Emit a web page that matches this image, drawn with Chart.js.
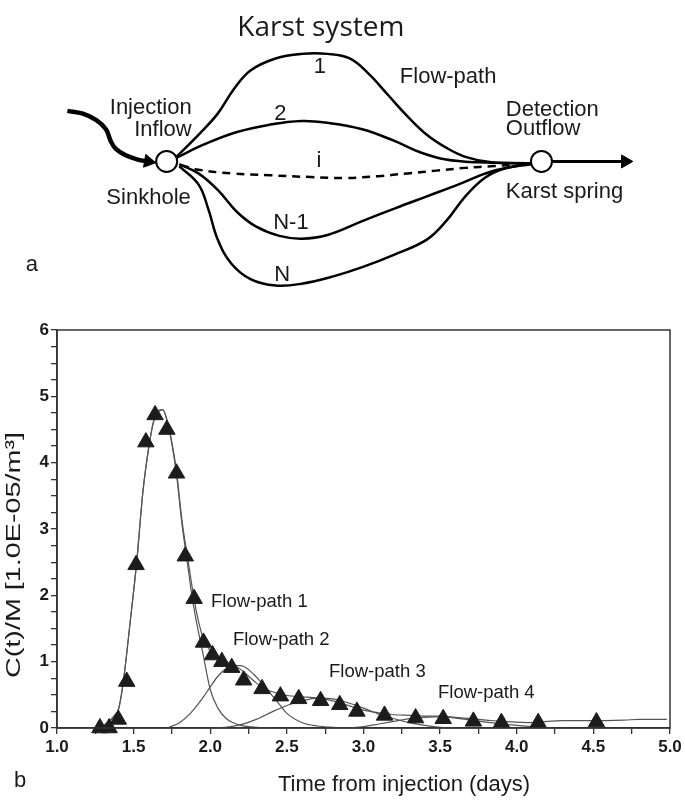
<!DOCTYPE html>
<html>
<head>
<meta charset="utf-8">
<script src="https://cdn.jsdelivr.net/npm/chart.js@4.4.1/dist/chart.umd.min.js"></script>
<style>
  html, body { margin: 0; padding: 0; background: #fff; }
  #wrap { position: relative; width: 685px; height: 800px; }
  .panel { position: absolute; left: 0; width: 685px; }
  #panelA { top: 0; height: 310px; }
  #panelB { top: 310px; height: 490px; }
</style>
</head>
<body>
<div id="wrap">
  <div class="panel" id="panelA"><canvas id="diagram"></canvas></div>
  <div class="panel" id="panelB"><canvas id="btc"></canvas></div>
</div>
<script>
/* ─── PANEL A: karst system sketch (diagram units, 0..685 x 0..310) ─── */
const path1  = [[170,157],[193,133],[213,110],[230,83],[247,63],[273,50],[300,45],[327,45],[350,50],[370,67],[390,90],[410,113],[430,133],[450,147],[470,157],[497,163],[538,164]];
const path2  = [[170,158],[200,143],[233,130],[267,122],[300,118],[327,120],[363,127],[397,140],[423,152],[450,160],[483,163],[538,164]];
const pathI  = [[175,166],[193,171],[227,175],[267,177],[310,179],[345,180],[380,178],[410,175],[440,172],[470,169],[500,167],[538,164]];
const pathN1 = [[173,165],[193,175],[213,193],[233,217],[253,233],[277,243],[300,246],[327,242],[363,227],[397,213],[430,200],[463,187],[497,173],[538,164]];
const pathN  = [[173,167],[193,187],[203,213],[213,247],[227,273],[247,290],[273,297],[300,295],[333,287],[363,277],[397,263],[430,247],[450,227],[470,200],[490,180],[510,170],[538,165]];
const inflow  = [[57,107],[73,110],[87,117],[97,127],[102,140],[107,148],[117,155],[130,160],[141,162]];
const outflow = [[560,162],[634,162]];
const nodes   = [[160,162],[549,162]];
const heads   = [[141,162],[636,162]];
const headAngles = [100, 90];

/* ─── PANEL B: breakthrough curve ─── */
const obsTime = [1.28,1.34,1.40,1.455,1.516,1.58,1.64,1.717,1.78,1.837,1.895,1.956,2.015,2.076,2.14,2.218,2.338,2.458,2.577,2.72,2.845,2.957,3.137,3.34,3.52,3.717,3.90,4.14,4.52];
const obsConc = [0,0,0.13,0.70,2.46,4.31,4.72,4.50,3.84,2.59,1.95,1.29,1.10,1.00,0.91,0.72,0.59,0.48,0.44,0.41,0.35,0.25,0.19,0.15,0.14,0.10,0.08,0.08,0.09];

const fitTime = [1.27,1.30,1.35,1.38,1.40,1.43,1.48,1.52,1.56,1.60,1.63,1.66,1.69,1.72,1.75,1.78,1.815,1.85,1.88,1.91,1.95,2.00,2.05,2.10,2.15,2.20,2.25,2.30,2.35,2.40,2.50,2.60,2.70,2.80,2.90,3.00,3.10,3.20,3.30,3.40,3.50,3.60,3.70,3.80,3.90,4.00,4.10,4.20,4.30,4.50,4.70,4.80,4.98];
const fitConc = [0,0.03,0.12,0.2,0.27,0.65,1.65,2.5,3.55,4.25,4.62,4.78,4.8,4.62,4.3,3.87,3.14,2.6,2.15,1.75,1.38,1.16,1.06,0.99,0.95,0.88,0.78,0.68,0.6,0.55,0.49,0.47,0.45,0.41,0.34,0.27,0.23,0.2,0.19,0.18,0.18,0.16,0.14,0.12,0.10,0.09,0.08,0.10,0.11,0.11,0.12,0.13,0.13];

const fp1Time = [1.27,1.30,1.35,1.38,1.40,1.43,1.48,1.52,1.56,1.60,1.63,1.66,1.69,1.72,1.75,1.78,1.815,1.85,1.88,1.91,1.95,2.00,2.05,2.10,2.15,2.20,2.30,2.40];
const fp1Conc = [0,0.03,0.12,0.2,0.27,0.65,1.65,2.5,3.55,4.25,4.62,4.76,4.8,4.62,4.28,3.82,3.08,2.5,2.0,1.6,1.15,0.58,0.3,0.15,0.08,0.04,0.01,0];
const fp2Time = [1.72,1.80,1.87,1.95,2.00,2.05,2.10,2.15,2.20,2.25,2.30,2.35,2.40,2.45,2.50,2.60,2.70,2.80,2.90];
const fp2Conc = [0,0.08,0.22,0.45,0.62,0.78,0.89,0.94,0.94,0.88,0.77,0.64,0.5,0.36,0.22,0.08,0.03,0.01,0];
const fp3Time = [2.00,2.10,2.20,2.30,2.40,2.50,2.60,2.70,2.80,2.90,3.00,3.10,3.20,3.30,3.40,3.50,3.60];
const fp3Conc = [0,0.01,0.05,0.13,0.24,0.34,0.41,0.45,0.44,0.38,0.3,0.21,0.14,0.08,0.04,0.01,0];
const fp4Time = [2.90,3.00,3.10,3.20,3.30,3.40,3.50,3.60,3.70,3.80,3.90,4.00,4.10,4.20];
const fp4Conc = [0,0.02,0.06,0.1,0.14,0.16,0.17,0.15,0.12,0.09,0.06,0.04,0.02,0];

const pathNames = ['Flow-path 1', 'Flow-path 2', 'Flow-path 3', 'Flow-path 4'];

const SANS = "'Liberation Sans', Arial, Helvetica, sans-serif";
const INK = '#1a1a1a';

Chart.defaults.font.family = SANS;
Chart.defaults.color = INK;

const toXY = arr => arr.map(p => ({ x: p[0], y: p[1] }));
const zip = (xs, ys) => xs.map((v, i) => ({ x: v, y: ys[i] }));

/* ─── DIAGRAM ─── */
const diagramText = {
  id: 'diagramText',
  afterDraw(chart) {
    const { ctx, scales: { x, y } } = chart;
    const put = (txt, px, py, align, font) => {
      ctx.font = font;
      ctx.textAlign = align;
      ctx.fillText(txt, x.getPixelForValue(px), y.getPixelForValue(py));
    };
    ctx.save();
    ctx.fillStyle = INK;
    ctx.textBaseline = 'middle';
    const f = '22px ' + SANS;
    put('Karst system', 320, 17, 'center', "28px 'Open Sans', 'Noto Sans', sans-serif");
    put('Injection', 186, 104, 'right', f);
    put('Inflow', 186, 128, 'right', f);
    put('Sinkhole', 185, 202, 'right', f);
    put('Flow-path', 402, 70, 'left', f);
    put('Detection', 512, 106, 'left', f);
    put('Outflow', 512, 127, 'left', f);
    put('Karst spring', 512, 195, 'left', f);
    put('1', 319, 59, 'center', f);
    put('2', 278, 110, 'center', f);
    put('i', 318, 161, 'center', f);
    put('N-1', 289, 229, 'center', f);
    put('N', 280, 285, 'center', f);
    put('a', 20, 275, 'center', f);
    ctx.restore();
  }
};

const curve = (pts, extra) => Object.assign({
  data: toXY(pts), showLine: true, borderColor: '#000', borderWidth: 2.5,
  pointRadius: 0, tension: 0.4, fill: false, clip: false
}, extra || {});

new Chart(document.getElementById('diagram'), {
  type: 'scatter',
  data: {
    datasets: [
      { data: toXY(nodes), pointStyle: 'circle', pointRadius: 10.5, backgroundColor: '#fff',
        borderColor: '#000', borderWidth: 2, showLine: false, clip: false },
      { data: toXY(heads), pointStyle: 'triangle', pointRadius: 7.5, rotation: headAngles,
        backgroundColor: '#000', borderColor: '#000', borderWidth: 1, showLine: false, clip: false },
      curve(path1), curve(path2), curve(pathI, { borderDash: [8, 6] }),
      curve(pathN1), curve(pathN),
      curve(inflow, { borderWidth: 4.5 }),
      curve(outflow, { borderWidth: 3, tension: 0 })
    ]
  },
  options: {
    responsive: true, maintainAspectRatio: false, animation: false, devicePixelRatio: 1,
    events: [],
    layout: { padding: 0 },
    plugins: { legend: { display: false }, tooltip: { enabled: false } },
    scales: {
      x: { type: 'linear', display: false, min: 0, max: 685 },
      y: { type: 'linear', display: false, min: 0, max: 310, reverse: true }
    }
  },
  plugins: [diagramText]
});

/* ─── BREAKTHROUGH CURVE ─── */
function stretchedText(ctx, txt, cx, cy, len, angle) {
  ctx.save();
  ctx.translate(cx, cy);
  ctx.rotate(angle);
  const w = ctx.measureText(txt).width;
  ctx.scale(len / w, 1);
  ctx.textAlign = 'center';
  ctx.fillText(txt, 0, 0);
  ctx.restore();
}

const btcDecor = {
  id: 'btcDecor',
  afterDraw(chart) {
    const { ctx, chartArea: a, scales: { x, y } } = chart;
    ctx.save();
    ctx.strokeStyle = '#333';
    ctx.lineWidth = 1.5;
    ctx.strokeRect(a.left, a.top, a.right - a.left, a.bottom - a.top);

    ctx.fillStyle = INK;
    ctx.textBaseline = 'middle';
    // flow-path labels, anchored in data units
    const anchors = [[2.005, 1.90], [2.148, 1.33], [2.775, 0.84], [3.486, 0.53]];
    ctx.font = '18.5px ' + SANS;
    ctx.textAlign = 'left';
    pathNames.forEach((t, i) => {
      ctx.fillText(t, x.getPixelForValue(anchors[i][0]), y.getPixelForValue(anchors[i][1]));
    });

    // axis titles
    ctx.font = '20px ' + SANS;
    stretchedText(ctx, 'C(t)/M [1.0E-05/m³]', 14, 245, 246, -Math.PI / 2);
    ctx.font = '22px ' + SANS;
    ctx.textAlign = 'center';
    ctx.fillText('Time from injection (days)', 404, 475);
    ctx.fillText('b', 20, 471);
    ctx.restore();
  }
};

const model = (xs, ys) => ({
  data: zip(xs, ys), showLine: true, borderColor: '#555', borderWidth: 1.2,
  pointRadius: 0, cubicInterpolationMode: 'monotone', fill: false
});

const tickFont = { size: 17, weight: 'bold', family: SANS };

new Chart(document.getElementById('btc'), {
  type: 'scatter',
  data: {
    datasets: [
      { label: 'Observed', data: zip(obsTime, obsConc), showLine: false,
        pointStyle: 'triangle', pointRadius: 9.5, backgroundColor: '#1c1c1c',
        borderColor: '#1c1c1c', borderWidth: 1, clip: false },
      model(fitTime, fitConc),
      model(fp1Time, fp1Conc),
      model(fp2Time, fp2Conc),
      model(fp3Time, fp3Conc),
      model(fp4Time, fp4Conc)
    ]
  },
  options: {
    responsive: true, maintainAspectRatio: false, animation: false, devicePixelRatio: 1,
    events: [],
    layout: { padding: { top: 20, right: 15, left: 0, bottom: 0 } },
    plugins: { legend: { display: false }, tooltip: { enabled: false } },
    scales: {
      x: {
        type: 'linear', min: 1, max: 5,
        ticks: {
          stepSize: 0.25, autoSkip: false, maxRotation: 0, padding: 3,
          color: INK, font: tickFont,
          callback: v => (Math.abs(v * 2 - Math.round(v * 2)) < 1e-9) ? v.toFixed(1) : ''
        },
        grid: { drawOnChartArea: false, drawTicks: true, tickLength: 6, color: '#333', lineWidth: 1.3 },
        border: { color: '#333', width: 1.5 },
        afterFit: s => { s.height = 72; }
      },
      y: {
        type: 'linear', min: 0, max: 6,
        ticks: {
          stepSize: 0.25, autoSkip: false, padding: 2,
          color: INK, font: tickFont,
          callback: v => Number.isInteger(v) ? String(v) : ''
        },
        grid: { drawOnChartArea: false, drawTicks: true, tickLength: 6, color: '#333', lineWidth: 1.3 },
        border: { color: '#333', width: 1.5 },
        afterFit: s => { s.width = 57; }
      }
    }
  },
  plugins: [btcDecor]
});
</script>
</body>
</html>
